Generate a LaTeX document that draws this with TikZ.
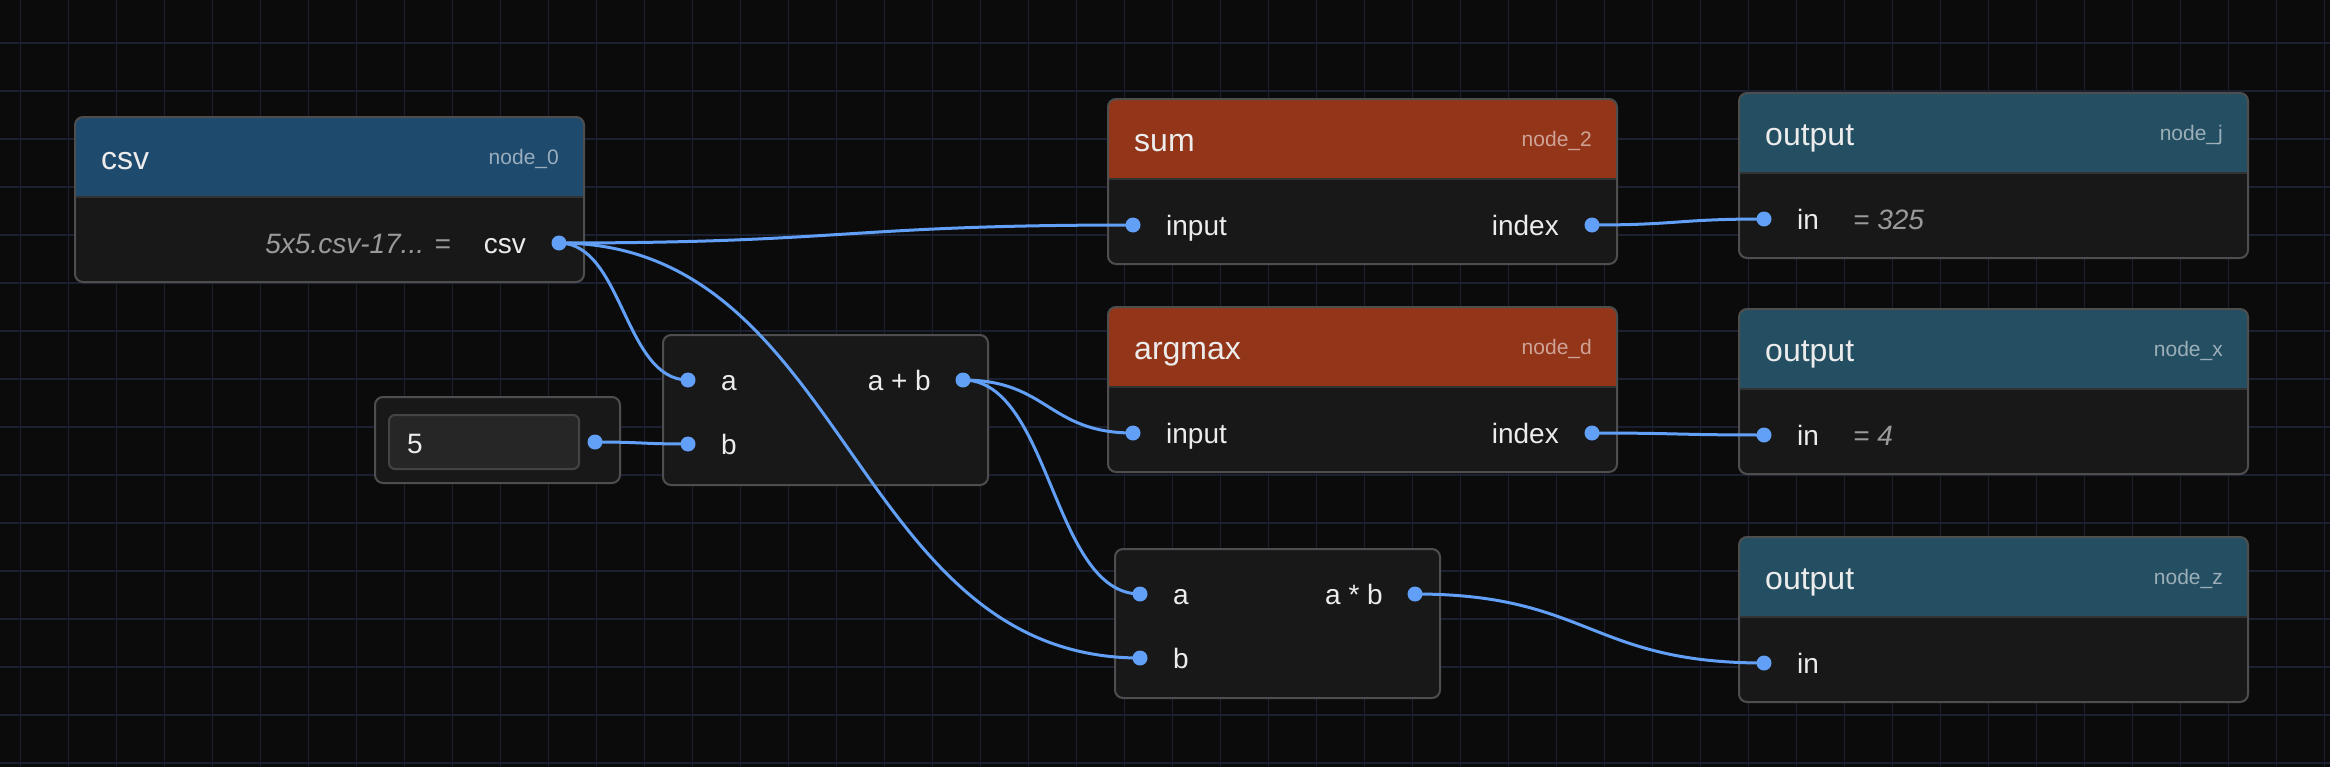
\documentclass[tikz,border=0pt]{standalone}
\usepackage{fontspec}
\setmainfont{Liberation Sans}

\definecolor{canvas}{HTML}{0B0B0C}
\definecolor{gridline}{HTML}{1B2031}
\definecolor{cardbg}{HTML}{181818}
\definecolor{cardedge}{HTML}{4E4E4E}
\definecolor{sepgray}{HTML}{333333}
\definecolor{csvhead}{HTML}{1E4A6E}
\definecolor{ophead}{HTML}{933518}
\definecolor{outhead}{HTML}{244E62}
\definecolor{wireblue}{HTML}{62A0F8}
\definecolor{labelfg}{HTML}{ECECEC}
\definecolor{valuefg}{HTML}{9A9A9A}
\definecolor{fieldbg}{HTML}{262626}
\definecolor{fieldedge}{HTML}{444444}

\begin{document}
\begin{tikzpicture}[x=1pt, y=-1pt,
    hdtitle/.style={anchor=base west, inner sep=0pt, text=labelfg, font=\fontsize{32}{38}\selectfont},
    hdtag/.style={anchor=base east, inner sep=0pt, text=white, text opacity=0.55, font=\fontsize{21}{25}\selectfont},
    plbl/.style={anchor=base west, inner sep=0pt, text=labelfg, font=\fontsize{28}{34}\selectfont},
    plblr/.style={plbl, anchor=base east},
    pval/.style={plbl, text=valuefg, font=\fontsize{28}{34}\selectfont\itshape},
    cardframe/.style={draw=cardedge, line width=2pt, rounded corners=8pt},
    wire/.style={draw=wireblue, line width=3pt},
    port/.style={fill=wireblue}]

    \useasboundingbox (0,0) rectangle (2330,766);
    \fill[canvas] (-10,-10) rectangle (2340,776);
    \foreach \k in {0,...,48} \draw[gridline, line width=1.5pt] (20.5+48*\k,-10) -- (20.5+48*\k,776);
    \foreach \k in {0,...,15} \draw[gridline, line width=1.5pt] (-10,43+48*\k) -- (2340,43+48*\k);

    % cards with a header
    \foreach \x/\y/\hc in {75/117/csvhead, 1108/99/ophead, 1108/307/ophead, 1739/93/outhead, 1739/309/outhead, 1739/537/outhead}{
        \fill[cardbg, rounded corners=8pt] (\x,\y) rectangle ++(509,165);
        \begin{scope}
            \clip[rounded corners=8pt] (\x,\y) rectangle ++(509,165);
            \fill[\hc] (\x,\y) rectangle ++(509,80);
        \end{scope}
        \draw[sepgray, line width=2pt] (\x,\y+80) -- ++(509,0);
        \draw[cardframe] (\x,\y) rectangle ++(509,165);
    }
    % plain cards
    \foreach \x/\y/\w/\h in {663/335/325/150, 1115/549/325/149, 375/397/245/86}{
        \fill[cardbg, rounded corners=8pt] (\x,\y) rectangle ++(\w,\h);
        \draw[cardframe] (\x,\y) rectangle ++(\w,\h);
    }
    \filldraw[fill=fieldbg, draw=fieldedge, line width=2pt, rounded corners=6pt] (389,415) rectangle (579,469);

    \node[hdtitle] (csv-title) at (101,169) {csv};
    \node[hdtag] (csv-tag) at (559,164) {node\_0};
    \node[pval, anchor=base east] (csv-val) at (451,253) {5x5.csv-17... =};
    \node[plblr] (csv-lbl) at (526,253) {csv};

    \node[hdtitle] (sum-title) at (1134,151) {sum};
    \node[hdtag] (sum-tag) at (1592,146) {node\_2};
    \node[plbl] (sum-in-lbl) at (1166,235) {input};
    \node[plblr] (sum-out-lbl) at (1559,235) {index};

    \node[hdtitle] (argmax-title) at (1134,359) {argmax};
    \node[hdtag] (argmax-tag) at (1592,354) {node\_d};
    \node[plbl] (argmax-in-lbl) at (1166,443) {input};
    \node[plblr] (argmax-out-lbl) at (1559,443) {index};

    \node[hdtitle] (outj-title) at (1765,145) {output};
    \node[hdtag] (outj-tag) at (2223,140) {node\_j};
    \node[plbl] (outj-lbl) at (1797,229) {in};
    \node[pval] (outj-val) at (1853,229) {= 325};

    \node[hdtitle] (outx-title) at (1765,361) {output};
    \node[hdtag] (outx-tag) at (2223,356) {node\_x};
    \node[plbl] (outx-lbl) at (1797,445) {in};
    \node[pval] (outx-val) at (1853,445) {= 4};

    \node[hdtitle] (outz-title) at (1765,589) {output};
    \node[hdtag] (outz-tag) at (2223,584) {node\_z};
    \node[plbl] (outz-lbl) at (1797,673) {in};

    \node[plbl] (add-a-lbl) at (721,390) {a};
    \node[plbl] (add-b-lbl) at (721,454) {b};
    \node[plblr] (add-out-lbl) at (931,390) {a + b};

    \node[plbl] (mul-a-lbl) at (1173,604) {a};
    \node[plbl] (mul-b-lbl) at (1173,668) {b};
    \node[plblr] (mul-out-lbl) at (1383,604) {a * b};

    \node[plbl] (const-val) at (407,453) {5};

    % ports
    \coordinate (csv-out) at (559,243);
    \coordinate (sum-in) at (1133,225);
    \coordinate (sum-out) at (1592,225);
    \coordinate (argmax-in) at (1133,433);
    \coordinate (argmax-out) at (1592,433);
    \coordinate (outj-in) at (1764,219);
    \coordinate (outx-in) at (1764,435);
    \coordinate (outz-in) at (1764,663);
    \coordinate (const-out) at (595,442);
    \coordinate (add-a) at (688,380);
    \coordinate (add-b) at (688,444);
    \coordinate (add-out) at (963,380);
    \coordinate (mul-a) at (1140,594);
    \coordinate (mul-b) at (1140,658);
    \coordinate (mul-out) at (1415,594);

    \draw[wire] (csv-out) .. controls +(287,0) and +(-287,0) .. (sum-in);
    \draw[wire] (csv-out) .. controls +(64,0) and +(-64,0) .. (add-a);
    \draw[wire] (csv-out) .. controls +(290,0) and +(-290,0) .. (mul-b);
    \draw[wire] (const-out) .. controls +(46,0) and +(-46,0) .. (add-b);
    \draw[wire] (add-out) .. controls +(85,0) and +(-85,0) .. (argmax-in);
    \draw[wire] (add-out) .. controls +(88,0) and +(-88,0) .. (mul-a);
    \draw[wire] (sum-out) .. controls +(86,0) and +(-86,0) .. (outj-in);
    \draw[wire] (argmax-out) .. controls +(86,0) and +(-86,0) .. (outx-in);
    \draw[wire] (mul-out) .. controls +(174,0) and +(-174,0) .. (outz-in);

    \foreach \p in {csv-out, sum-in, sum-out, argmax-in, argmax-out, outj-in, outx-in, outz-in, const-out, add-a, add-b, add-out, mul-a, mul-b, mul-out}
        \fill[port] (\p) circle[radius=7.5pt];

\end{tikzpicture}
\end{document}
